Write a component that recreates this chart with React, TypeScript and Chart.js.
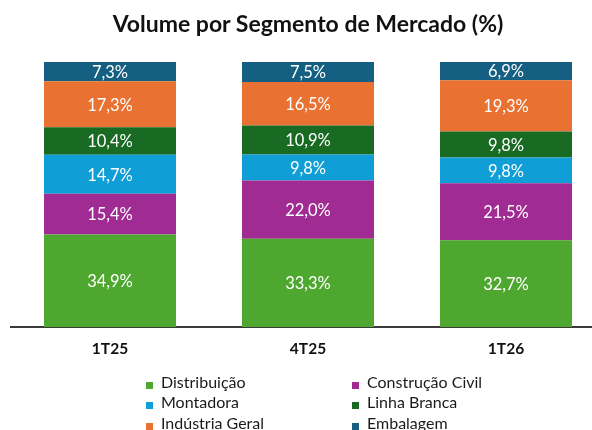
import React, { useEffect, useRef } from 'react';
import { Chart, registerables } from 'chart.js';

Chart.register(...registerables);

const titleText = 'Volume por Segmento de Mercado (%)';
const categories = ['1T25', '4T25', '1T26'];
const seriesNames = ['Distribuição', 'Construção Civil', 'Montadora', 'Linha Branca', 'Indústria Geral', 'Embalagem'];
const distribuicao = [34.9, 33.3, 32.7];
const construcaoCivil = [15.4, 22.0, 21.5];
const montadora = [14.7, 9.8, 9.8];
const linhaBranca = [10.4, 10.9, 9.8];
const industriaGeral = [17.3, 16.5, 19.3];
const embalagem = [7.3, 7.5, 6.9];
const seriesValues = [distribuicao, construcaoCivil, montadora, linhaBranca, industriaGeral, embalagem];
const colors = ['#4EA72E', '#A02B93', '#0F9ED5', '#196B24', '#E97132', '#156082'];

const W = 616;
const H = 430;
const FONT = 'Lato, "Open Sans", sans-serif';

const fmt = (v: number) => v.toFixed(1).replace('.', ',') + '%';

const labelPlugin = {
  id: 'segLabels',
  afterDatasetsDraw(chart: any) {
    const ctx = chart.ctx;
    ctx.save();
    ctx.font = `16.5px ${FONT}`;
    ctx.fillStyle = '#ffffff';
    ctx.textAlign = 'center';
    ctx.textBaseline = 'middle';
    chart.data.datasets.forEach((ds: any, i: number) => {
      const meta = chart.getDatasetMeta(i);
      meta.data.forEach((el: any, j: number) => {
        const p = el.getProps(['x', 'y', 'base'], true);
        ctx.fillText(fmt(ds.data[j]), p.x, (p.y + p.base) / 2 + 1);
      });
    });
    ctx.restore();
  },
};

export default function App() {
  const ref = useRef<HTMLCanvasElement>(null);

  useEffect(() => {
    const chart = new Chart(ref.current as HTMLCanvasElement, {
      type: 'bar',
      data: {
        labels: categories,
        datasets: seriesNames.map((name, i) => ({
          label: name,
          data: seriesValues[i],
          backgroundColor: colors[i],
          borderWidth: 0,
          barPercentage: 0.6667,
          categoryPercentage: 1,
        })),
      },
      options: {
        responsive: false,
        animation: false,
        devicePixelRatio: 1,
        layout: { padding: { left: 11, right: 11, top: 62, bottom: 58.4 } },
        plugins: {
          legend: { display: false },
          title: { display: false },
          tooltip: { enabled: false },
        },
        scales: {
          x: {
            stacked: true,
            grid: { display: false, drawTicks: false },
            border: { display: true, color: '#3a3a3a', width: 2 },
            ticks: {
              padding: 13,
              color: '#111111',
              font: { family: FONT, size: 15.5, weight: 'bold' },
            },
          },
          y: {
            stacked: true,
            display: false,
            min: 0,
            max: 100,
          },
        },
      },
      plugins: [labelPlugin],
    } as any);
    return () => chart.destroy();
  }, []);

  const rowTops = [371.6, 392.3, 413];
  const colX = [146, 352];

  return (
    <div
      style={{
        position: 'fixed',
        left: 0,
        top: 0,
        width: W,
        height: H,
        overflow: 'hidden',
        background: '#ffffff',
        fontFamily: FONT,
      }}
    >
      <canvas ref={ref} width={W} height={H} style={{ display: 'block', width: W, height: H }} />
      <div
        style={{
          position: 'absolute',
          left: 0,
          top: 9.5,
          width: W,
          textAlign: 'center',
          fontSize: 23,
          lineHeight: '27px',
          fontWeight: 700,
          color: '#111111',
          whiteSpace: 'nowrap',
        }}
      >
        {titleText}
      </div>
      {seriesNames.map((name, i) => {
        const row = Math.floor(i / 2);
        const col = i % 2;
        return (
          <div
            key={name}
            style={{
              position: 'absolute',
              left: colX[col],
              top: rowTops[row],
              height: 20,
              lineHeight: '20px',
              fontSize: 16,
              color: '#1a1a1a',
              whiteSpace: 'nowrap',
            }}
          >
            <span
              style={{
                position: 'absolute',
                left: 0,
                top: 10,
                width: 7,
                height: 7,
                background: colors[i],
              }}
            />
            <span style={{ position: 'absolute', left: 15, top: 0 }}>{name}</span>
          </div>
        );
      })}
    </div>
  );
}
